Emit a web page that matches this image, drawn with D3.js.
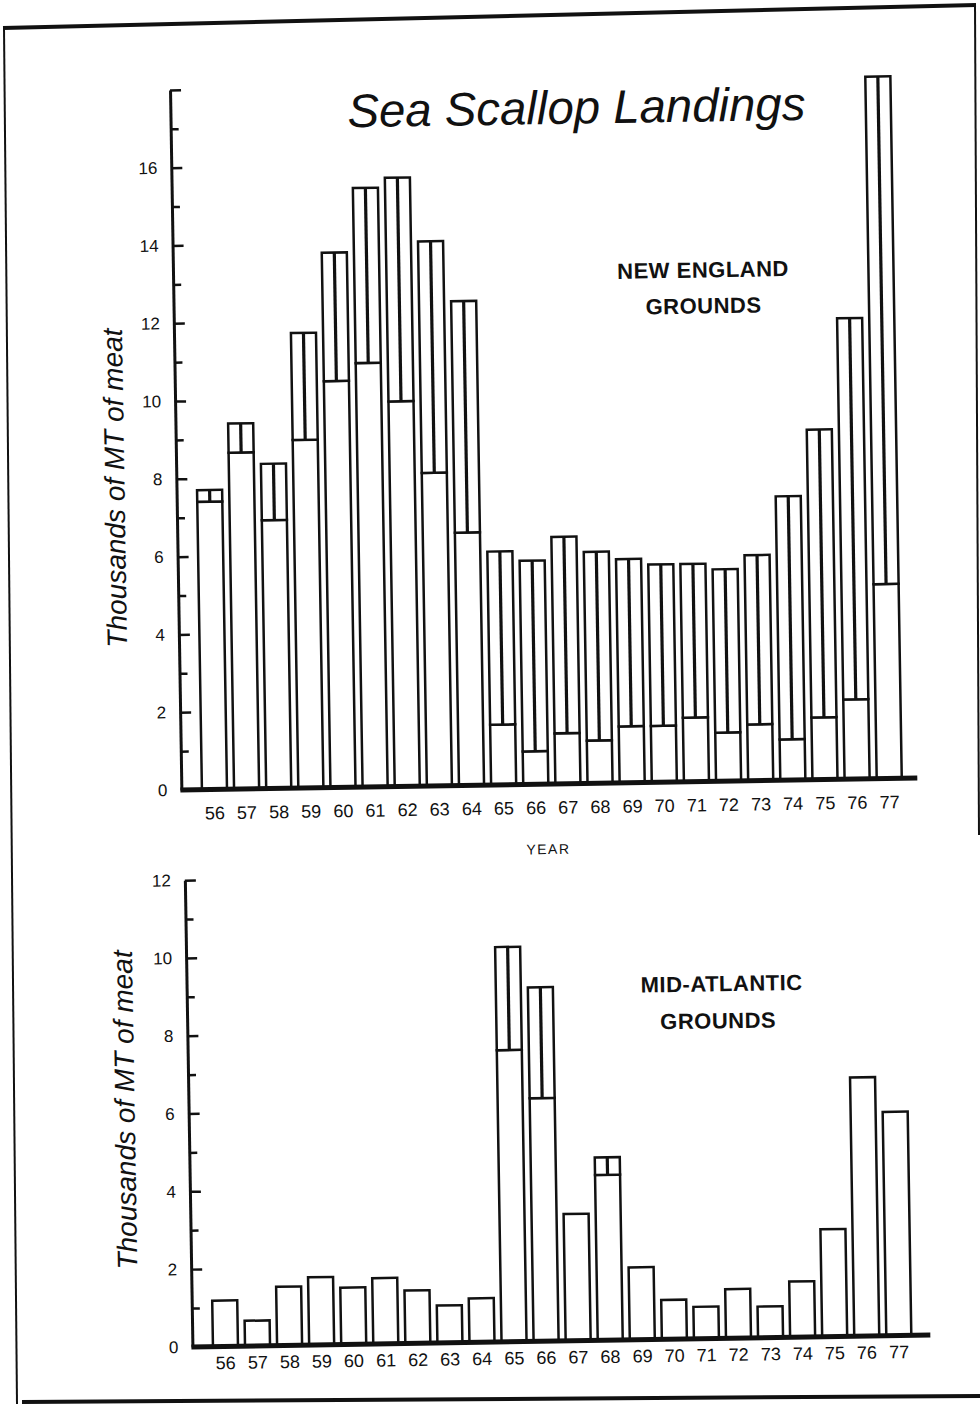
<!DOCTYPE html>
<html>
<head>
<meta charset="utf-8">
<script src="https://cdn.jsdelivr.net/npm/d3@7"></script>
<style>
  body { margin: 0; background: #fff; }
  svg { display: block; }
  text { fill: #111; font-family: "Liberation Sans", Arial, sans-serif; }
</style>
</head>
<body>
<div id="chart"></div>
<script>
// years on the x axis (19xx)
var years = ["56","57","58","59","60","61","62","63","64","65","66",
             "67","68","69","70","71","72","73","74","75","76","77"];

// New England grounds, thousands of MT of meat
var neLower = [7.4, 8.65, 6.9, 8.95, 10.45, 10.9, 9.9, 8.05, 6.5, 1.55, 0.85,
               1.3, 1.1, 1.45, 1.45, 1.65, 1.25, 1.45, 1.05, 1.6, 2.05, 5.0];
var neTotal = [7.7, 9.4, 8.35, 11.7, 13.75, 15.4, 15.65, 14.0, 12.45, 6.0, 5.75,
               6.35, 5.95, 5.75, 5.6, 5.6, 5.45, 5.8, 7.3, 9.0, 11.85, 18.05];

// Mid-Atlantic grounds
var maLower = [1.18, 0.65, 1.51, 1.74, 1.46, 1.69, 1.36, 0.96, 1.13, 7.5, 6.25,
               3.26, 4.25, 1.86, 1.01, 0.82, 1.26, 0.8, 1.43, 2.76, 6.65, 5.75];
var maTotal = [1.18, 0.65, 1.51, 1.74, 1.46, 1.69, 1.36, 0.96, 1.13, 10.15, 9.1,
               3.26, 4.7, 1.86, 1.01, 0.82, 1.26, 0.8, 1.43, 2.76, 6.65, 5.75];

var neLabels = [0, 2, 4, 6, 8, 10, 12, 14, 16];
var maLabels = [0, 2, 4, 6, 8, 10, 12];

var W = 980, H = 1404;
var ink = "#111";

var svg = d3.select("#chart").append("svg")
    .attr("width", W)
    .attr("height", H);

svg.append("rect").attr("width", W).attr("height", H).attr("fill", "#fff");

// page frame of the scanned sheet
svg.append("path").attr("d", "M3,28 L976,5").attr("stroke", ink).attr("stroke-width", 4).attr("fill", "none");
svg.append("path").attr("d", "M4,28 L17,1404").attr("stroke", ink).attr("stroke-width", 2).attr("fill", "none");
svg.append("path").attr("d", "M975,5 L979,835").attr("stroke", ink).attr("stroke-width", 2).attr("fill", "none");
svg.append("path").attr("d", "M22,1402 L980,1396").attr("stroke", ink).attr("stroke-width", 4).attr("fill", "none");

// the page is scanned slightly tilted
var page = svg.append("g").attr("transform", "rotate(-0.93 490 702)");

function drawPanel(cfg) {
    var g = page.append("g");

    var y = d3.scaleLinear()
        .domain([0, cfg.maxV])
        .range([cfg.zeroY, cfg.zeroY - cfg.maxV * 38.9]);

    var x = d3.scaleBand()
        .domain(years)
        .range([cfg.x0, cfg.x1])
        .paddingInner(0.22)
        .paddingOuter(0.11);

    var rows = years.map(function(yr, i) {
        return { yr: yr, lo: cfg.lower[i], tot: cfg.total[i] };
    });

    // lower (plain) part of each bar
    g.selectAll("rect.lo")
        .data(rows)
        .join("rect")
        .attr("class", "lo")
        .attr("x", d => x(d.yr))
        .attr("y", d => y(d.lo))
        .attr("width", x.bandwidth())
        .attr("height", d => y(0) - y(d.lo))
        .attr("fill", "#fff")
        .attr("stroke", ink)
        .attr("stroke-width", 2.5);

    // upper part, split by a centre line
    var up = rows.filter(d => d.tot > d.lo);
    g.selectAll("rect.up")
        .data(up)
        .join("rect")
        .attr("class", "up")
        .attr("x", d => x(d.yr))
        .attr("y", d => y(d.tot))
        .attr("width", x.bandwidth())
        .attr("height", d => y(d.lo) - y(d.tot))
        .attr("fill", "#fff")
        .attr("stroke", ink)
        .attr("stroke-width", 2.5);

    g.selectAll("line.mid")
        .data(up)
        .join("line")
        .attr("class", "mid")
        .attr("x1", d => x(d.yr) + x.bandwidth() / 2)
        .attr("x2", d => x(d.yr) + x.bandwidth() / 2)
        .attr("y1", d => y(d.tot))
        .attr("y2", d => y(d.lo))
        .attr("stroke", ink)
        .attr("stroke-width", 3.2);

    // y axis: minor ticks + domain
    var minor = g.append("g")
        .attr("transform", "translate(" + cfg.axisX + ",0)")
        .call(d3.axisRight(y)
            .tickValues(d3.range(1, cfg.maxV, 2))
            .tickSize(8)
            .tickSizeOuter(0)
            .tickFormat(""));
    minor.select(".domain").attr("stroke", ink).attr("stroke-width", 3);
    minor.selectAll(".tick line").attr("stroke", ink).attr("stroke-width", 2.5);

    var major = g.append("g")
        .attr("transform", "translate(" + cfg.axisX + ",0)")
        .call(d3.axisRight(y)
            .tickValues(d3.range(0, cfg.maxV + 1, 2))
            .tickSize(11)
            .tickFormat(""));
    major.select(".domain").remove();
    major.selectAll(".tick line").attr("stroke", ink).attr("stroke-width", 2.5);

    var lab = g.append("g")
        .attr("transform", "translate(" + cfg.axisX + ",0)")
        .call(d3.axisLeft(y)
            .tickValues(cfg.labels)
            .tickSize(0)
            .tickPadding(14));
    lab.select(".domain").remove();
    lab.selectAll("text")
        .style("font-size", "17px")
        .style("font-family", "'Liberation Sans', Arial, sans-serif")
        .attr("fill", ink);

    // heavy baseline
    g.append("line")
        .attr("x1", cfg.axisX - 1)
        .attr("x2", cfg.baseEnd)
        .attr("y1", y(0))
        .attr("y2", y(0))
        .attr("stroke", ink)
        .attr("stroke-width", 5);

    // year labels
    var xa = g.append("g")
        .attr("transform", "translate(0," + y(0) + ")")
        .call(d3.axisBottom(x).tickSize(0).tickPadding(cfg.xPad));
    xa.select(".domain").remove();
    xa.selectAll("text")
        .style("font-size", "18px")
        .style("font-family", "'Liberation Sans', Arial, sans-serif")
        .attr("fill", ink);

    // y axis title
    g.append("text")
        .attr("transform", "translate(128," + cfg.titleY + ") rotate(-90)")
        .attr("text-anchor", "middle")
        .style("font-size", "28px")
        .style("font-style", "italic")
        .text("Thousands of MT of meat");

    // region label
    g.selectAll("text.region")
        .data(cfg.region)
        .join("text")
        .attr("class", "region")
        .attr("x", d => d.x)
        .attr("y", d => d.y)
        .attr("text-anchor", "middle")
        .style("font-size", "22px")
        .style("font-weight", "bold")
        .style("letter-spacing", "0.5px")
        .text(d => d.t);
}

drawPanel({
    maxV: 18, zeroY: 785, x0: 197, x1: 904, axisX: 180, baseEnd: 916,
    lower: neLower, total: neTotal, labels: neLabels, xPad: 17, titleY: 482,
    region: [{ t: "NEW ENGLAND", x: 710, y: 281 }, { t: "GROUNDS", x: 710, y: 317 }]
});

drawPanel({
    maxV: 12, zeroY: 1342, x0: 199, x1: 904.5, axisX: 182, baseEnd: 920,
    lower: maLower, total: maTotal, labels: maLabels, xPad: 10, titleY: 1104,
    region: [{ t: "MID-ATLANTIC", x: 717, y: 995 }, { t: "GROUNDS", x: 713, y: 1032 }]
});

page.append("text")
    .attr("x", 546)
    .attr("y", 855)
    .attr("text-anchor", "middle")
    .style("font-size", "14px")
    .style("letter-spacing", "1.5px")
    .text("YEAR");

page.append("text")
    .attr("x", 357)
    .attr("y", 125)
    .attr("textLength", 458)
    .attr("lengthAdjust", "spacingAndGlyphs")
    .style("font-size", "47px")
    .style("font-style", "italic")
    .text("Sea Scallop Landings");
</script>
</body>
</html>
